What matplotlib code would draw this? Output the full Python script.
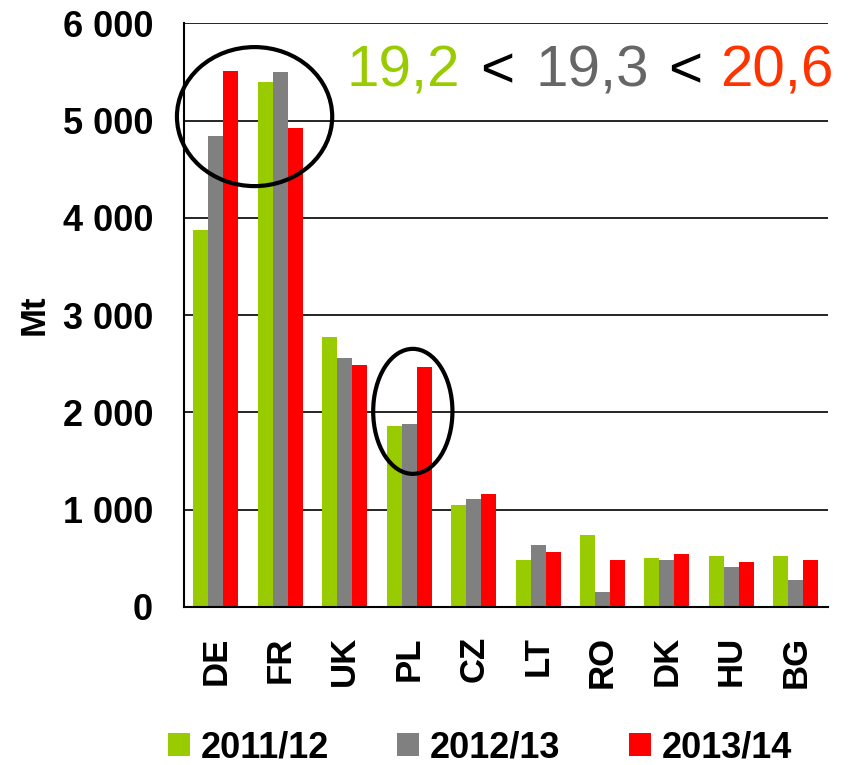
import matplotlib
matplotlib.use("Agg")
import matplotlib.pyplot as plt
from matplotlib.patches import Ellipse, Patch
import numpy as np

categories = ["DE", "FR", "UK", "PL", "CZ", "LT", "RO", "DK", "HU", "BG"]
series_names = ["2011/12", "2012/13", "2013/14"]
v2011 = [3880, 5392, 2775, 1860, 1052, 485, 742, 505, 526, 526]
v2012 = [4838, 5495, 2559, 1881, 1113, 639, 155, 485, 412, 278]
v2013 = [5508, 4928, 2487, 2467, 1165, 567, 485, 546, 464, 485]
yticks = [0, 1000, 2000, 3000, 4000, 5000, 6000]
ytick_labels = ["0", "1 000", "2 000", "3 000", "4 000", "5 000", "6 000"]
headline = [("19,2", "#99CC00"), ("<", "#000000"), ("19,3", "#666666"),
            ("<", "#000000"), ("20,6", "#FF3300")]

colors = ["#99CC00", "#808080", "#FF0000"]

plt.rcParams["font.family"] = ["Liberation Sans", "DejaVu Sans"]

W, H = 854, 765
fig = plt.figure(figsize=(W / 100, H / 100), dpi=100)
ax = fig.add_axes([183.7 / W, 1 - 607 / H, (828 - 183.7) / W, (607 - 23.3) / H])

x = np.arange(len(categories))
bw = 0.233
for i, (vals, c, n) in enumerate(zip([v2011, v2012, v2013], colors, series_names)):
    ax.bar(x + (i - 1) * bw, vals, width=bw, color=c, label=n, zorder=3, linewidth=0)

ax.set_xlim(-0.5, len(categories) - 0.5)
ax.set_ylim(0, 6000)
ax.set_yticks(yticks)
ax.set_yticklabels(ytick_labels, fontsize=26, fontweight="bold")
ax.set_xticks(x)
ax.set_xticklabels(categories, fontsize=25, fontweight="bold", rotation=90)
ax.tick_params(axis="y", length=0, pad=22)
ax.tick_params(axis="x", length=0, pad=21)
ax.yaxis.grid(True, color="black", linewidth=1.2, zorder=0)
ax.set_axisbelow(True)
for s in ["top", "right"]:
    ax.spines[s].set_visible(False)
for s in ["left", "bottom"]:
    ax.spines[s].set_linewidth(1.5)
    ax.spines[s].set_zorder(4)

fig.text(34.5 / W, 1 - 315 / H, "Mt", rotation=90, fontsize=25, fontweight="bold",
         ha="center", va="center")

# ellipses
ax.add_patch(Ellipse((0.60, 5041), 2.41, 1429, fill=False, edgecolor="black",
                     linewidth=3, zorder=5, clip_on=False))
ax.add_patch(Ellipse((3.056, 2011), 1.23, 1285, fill=False, edgecolor="black",
                     linewidth=3, zorder=5, clip_on=False))

# headline
xs = [347, 480, 535, 668, 720]
for (t, c), px in zip(headline, xs):
    fig.text(px / W, 1 - 87 / H, t, color=c, fontsize=42,
             ha="left", va="baseline")

handles = [Patch(facecolor=c, edgecolor="none") for c in colors]
fig.legend(handles, series_names, loc="center", bbox_to_anchor=(480 / W, 1 - 748 / H),
           ncol=3, frameon=False, prop={"size": 26, "weight": "bold"},
           handlelength=0.61, handleheight=0.61, handletextpad=0.3,
           columnspacing=1.9, borderpad=0, borderaxespad=0)

fig.savefig("out.png", dpi=100)
